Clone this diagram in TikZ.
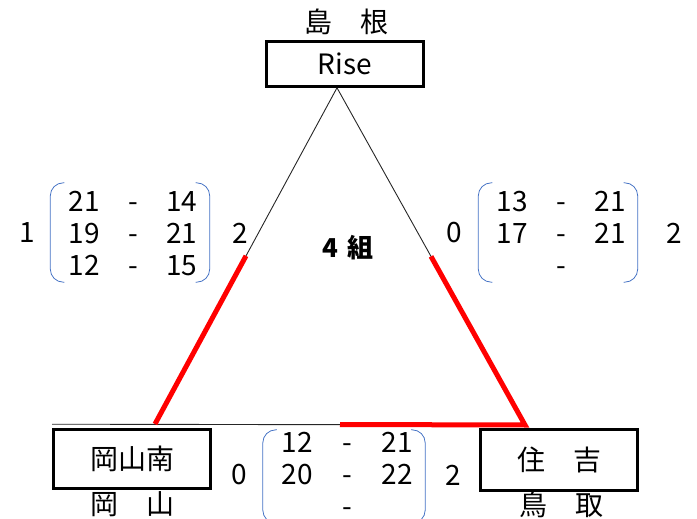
\documentclass[tikz,border=0pt]{standalone}
\usepackage{fontspec}
\usepackage{array}
\setmainfont{Noto Sans CJK JP}
\usetikzlibrary{calc}
\definecolor{bracketblue}{HTML}{4472C4}
\definecolor{winred}{HTML}{FF0000}
\tikzstyle{team} = [draw=black, line width=2.6pt, rectangle, inner sep=0pt, minimum width=157pt, minimum height=45pt, font=\fontsize{28}{32}\selectfont]
\tikzstyle{place} = [inner sep=0pt, font=\fontsize{28}{32}\selectfont]
\tikzstyle{score} = [inner sep=0pt, font=\fontsize{28}{32}\selectfont]
\tikzstyle{bracket} = [draw=bracketblue, line width=0.8pt, rounded corners=13pt]
\tikzstyle{match} = [draw=black!85, line width=0.9pt]
\tikzstyle{won} = [draw=winred, line width=5pt]

\begin{document}
\begin{tikzpicture}[x=1pt,y=-1pt]
\useasboundingbox (0,0) rectangle (697,519);
% teams
\node [team] (rise) at (345,64) {Rise};
\node [place] (shimane) at (346,22) {島　根};
\node [team, minimum height=59pt] (okayama) at (132,459) {岡山南};
\node [place] (okayamapref) at (132,504) {岡　山};
\node [team, minimum height=61pt] (sumiyoshi) at (559,460) {住　吉};
\node [place] (tottori) at (561,505) {鳥　取};
\node [font=\fontsize{26}{30}\selectfont\bfseries] (group) at (348,248) {4\hspace{0.35em}組};
% triangle
\coordinate (apex) at ([xshift=-8pt]rise.south);
\coordinate (lc) at (155,424);
\coordinate (rc) at (525,425);
\draw [match] (apex) -- (lc);
\draw [match] (apex) -- (rc);
\draw [match] ([yshift=4pt]okayama.north west) -- (rc);
\draw [won] ($(apex)!0.5!(lc)$) -- (lc);
\draw [won] ($(lc)!0.5!(rc)$) -- (rc) -- ($(rc)!0.5!(apex)$);
% scores
\node [score] (lm) at (133,237) {%
    \begin{tabular}{@{}*{3}{wc{37pt}}@{}}
    21 & - & 14 \\
    19 & - & 21 \\
    12 & - & 15 \\
    \end{tabular}
};
\node [score] (rm) at (561,237) {%
    \begin{tabular}{@{}*{3}{wc{37pt}}@{}}
    13 & - & 21 \\
    17 & - & 21 \\
       & - &    \\
    \end{tabular}
};
\node [score] (bm) at (347,478) {%
    \begin{tabular}{@{}*{3}{wc{38pt}}@{}}
    12 & - & 21 \\
    20 & - & 22 \\
       & - &    \\
    \end{tabular}
};
\foreach \m/\t in {lm/6pt,rm/6pt,bm/0pt} {
    \draw [bracket] ([xshift=-1pt,yshift=\t]\m.north west) -- ([xshift=-15pt,yshift=\t]\m.north west)
        -- ([xshift=-15pt,yshift=3pt]\m.south west) -- ([xshift=-1pt,yshift=3pt]\m.south west);
    \draw [bracket] ([xshift=-5pt,yshift=\t]\m.north east) -- ([xshift=9pt,yshift=\t]\m.north east)
        -- ([xshift=9pt,yshift=3pt]\m.south east) -- ([xshift=-5pt,yshift=3pt]\m.south east);
}
\node [place] (lwins) at (27,233) {1};
\node [place] (lloss) at (240,233) {2};
\node [place] (rwins) at (454,233) {0};
\node [place] (rloss) at (674,233) {2};
\node [place] (bwins) at (239,475) {0};
\node [place] (bloss) at (453,475) {2};
\end{tikzpicture}
\end{document}
